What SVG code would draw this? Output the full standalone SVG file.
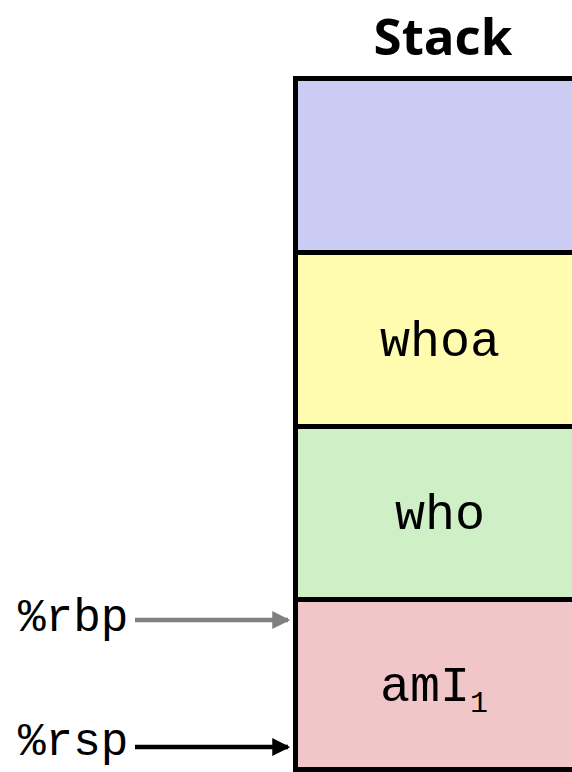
<svg xmlns="http://www.w3.org/2000/svg" width="572" height="772" viewBox="0 0 572 772">
<style>
.cell{stroke:#000;stroke-width:5}
.mono{font-family:"Liberation Mono","Courier New",monospace;font-size:50px;fill:#000}
.lbl{font-family:"Liberation Mono","Courier New",monospace;font-size:46px;fill:#000}
.title{font-family:"Open Sans","Liberation Sans",sans-serif;font-weight:bold;font-size:51px;fill:#000}
</style>
<defs>
<marker id="ag" markerWidth="4" markerHeight="4" refX="3.5" refY="2" orient="auto" markerUnits="strokeWidth"><path d="M0,0 L4,2 L0,4 z" fill="#808080"/></marker>
<marker id="ab" markerWidth="4" markerHeight="4" refX="3.5" refY="2" orient="auto" markerUnits="strokeWidth"><path d="M0,0 L4,2 L0,4 z" fill="#000"/></marker>
</defs>
<rect width="572" height="772" fill="#fff"/>
<text class="title" x="443" y="55" text-anchor="middle">Stack</text>
<g id="frame1"><rect class="cell" x="295.5" y="78.5" width="320" height="174" fill="#CBCCF3"/></g>
<g id="whoa"><rect class="cell" x="295.5" y="252.5" width="320" height="174" fill="#FFFCB0"/><text class="mono" x="440" y="356" text-anchor="middle">whoa</text></g>
<g id="who"><rect class="cell" x="295.5" y="426.5" width="320" height="173" fill="#CFEFC7"/><text class="mono" x="440" y="529" text-anchor="middle">who</text></g>
<g id="amI"><rect class="cell" x="295.5" y="599.5" width="320" height="170" fill="#F1C6C8"/><text class="mono" x="380" y="701">amI<tspan font-size="30" dy="11">1</tspan></text></g>
<g id="rbp"><text class="lbl" x="18" y="631">%rbp</text></g>
<g id="rsp"><text class="lbl" x="18" y="755">%rsp</text></g>
<g id="connectors">
<line x1="135" y1="620" x2="288" y2="620" stroke="#808080" stroke-width="4.5" marker-end="url(#ag)"/>
<line x1="135" y1="747" x2="288" y2="747" stroke="#000" stroke-width="4.5" marker-end="url(#ab)"/>
</g>
</svg>
